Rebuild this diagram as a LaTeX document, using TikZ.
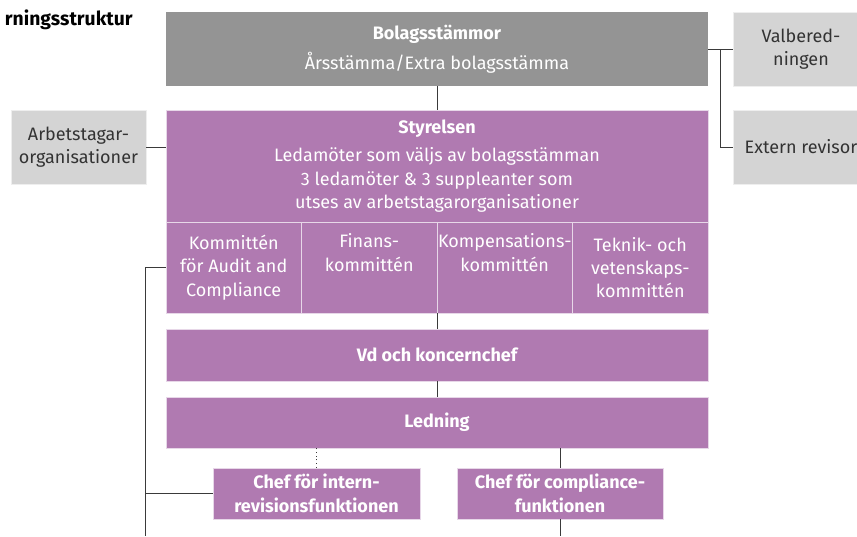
\documentclass[tikz,border=0pt]{standalone}
\usepackage{fontspec}
\setmainfont{Fira Sans}
\usetikzlibrary{positioning,calc}
\definecolor{lila}{HTML}{B07AB1}
\definecolor{morkgra}{HTML}{949494}
\definecolor{ljusgra}{HTML}{D4D4D4}
\definecolor{linje}{HTML}{3A3A3A}
\newcommand{\textstorlek}{\fontsize{13.5}{17.5}\selectfont}
\tikzset{
  ruta/.style={inner sep=0pt, align=center, font=\textstorlek},
  lilaruta/.style={ruta, fill=lila, draw=white!70!lila, line width=0.6pt, text=white},
  fetruta/.style={lilaruta, font=\bfseries\textstorlek},
  grarruta/.style={ruta, fill=morkgra, text=white},
  sidoruta/.style={ruta, fill=ljusgra, draw=white!60!ljusgra, line width=0.6pt, text=black!80},
  linjen/.style={draw=linje, line width=0.75pt}
}

\begin{document}
\begin{tikzpicture}[x=0.75pt,y=-0.75pt]
    \useasboundingbox (0,0) rectangle (857,536);
    % rubrik
    \node[anchor=base east, inner sep=0pt, font=\bfseries\fontsize{14.5}{17}\selectfont] (titel) at (133,25) {rningsstruktur};
    % huvudkolumn
    \node[grarruta, minimum width=406.5pt, minimum height=55.5pt] (bolag) at (437,49) {\textbf{Bolagsstämmor}\\[5pt] Årsstämma/Extra bolagsstämma};
    \node[lilaruta, minimum width=406.5pt, minimum height=84pt] (styr) at (437,166) {\textbf{Styrelsen}\\[4pt] Ledamöter som väljs av bolagsstämman\\ 3 ledamöter \& 3 suppleanter som\\ utses av arbetstagarorganisationer};
    \node[lilaruta, minimum width=101.6pt, minimum height=68.25pt] (audit) at (233.75,267.5) {Kommittén\\ för Audit and\\ Compliance};
    \node[lilaruta, minimum width=101.6pt, minimum height=68.25pt] (finans) at (369.25,267.5) {Finans-\\ kommittén\\ \strut};
    \node[lilaruta, minimum width=101.6pt, minimum height=68.25pt] (komp) at (504.75,267.5) {Kompensations-\\ kommittén\\ \strut};
    \node[lilaruta, minimum width=101.6pt, minimum height=68.25pt] (teknik) at (640.25,267.5) {Teknik- och\\ vetenskaps-\\ kommittén};
    \node[fetruta, minimum width=406.5pt, minimum height=39pt] (vd) at (437,355) {Vd och koncernchef};
    \node[fetruta, minimum width=406.5pt, minimum height=38.25pt] (ledning) at (437,422.5) {Ledning};
    \node[fetruta, minimum width=155.25pt, minimum height=38.25pt] (intern) at (316.5,493.5) {Chef för intern-\\ revisionsfunktionen};
    \node[fetruta, minimum width=154.5pt, minimum height=38.25pt] (compl) at (560,493.5) {Chef för compliance-\\ funktionen};
    % sidorutor
    \node[sidoruta, minimum width=101.25pt, minimum height=55.5pt] (arbets) at (78.5,147) {Arbetstagar-\\ organisationer};
    \node[sidoruta, minimum width=102pt, minimum height=55.5pt] (valb) at (801,49) {Valbered-\\ ningen};
    \node[sidoruta, minimum width=102pt, minimum height=55.5pt] (extern) at (801,147) {Extern revisor};
    % linjer
    \coordinate (vbot) at (145,536);
    \coordinate (hknut) at (720,49);
    \draw[linjen] (bolag.south) -- (styr.north);
    \draw[linjen] (vd.north) -- (vd.north |- komp.south);
    \draw[linjen] (vd.south) -- (ledning.north);
    \draw[linjen, dotted] (intern.north) -- (intern.north |- ledning.south);
    \draw[linjen] (compl.north) -- (compl.north |- ledning.south);
    \draw[linjen] (compl.south) -- (compl.south |- vbot);
    \draw[linjen] (audit.west) -| (vbot);
    \draw[linjen] (intern.west) -- (intern.west -| vbot);
    \draw[linjen] (arbets.east) -- (arbets.east -| styr.west);
    \draw[linjen] (bolag.east) -- (valb.west);
    \draw[linjen] (hknut) |- (extern.west);
\end{tikzpicture}
\end{document}
